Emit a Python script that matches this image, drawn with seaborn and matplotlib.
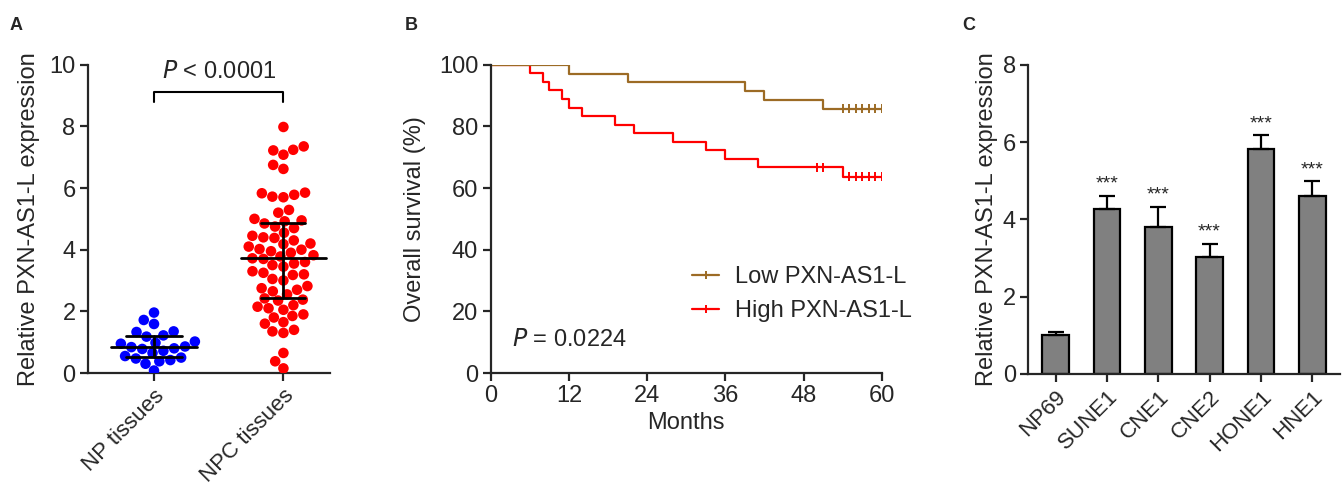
import numpy as np
import pandas as pd
import matplotlib
matplotlib.use("Agg")
import matplotlib.pyplot as plt
import seaborn as sns
from matplotlib.lines import Line2D

# -----------------------------------
# Data
# -----------------------------------

# panel A: expression per tissue sample
np_tissues = [1.96, 1.72, 1.59, 1.35, 1.33, 1.22, 1.18, 1.02, 0.98, 0.95,
              0.86, 0.84, 0.80, 0.78, 0.72, 0.65, 0.55, 0.50, 0.47, 0.42,
              0.38, 0.30, 0.08]
npc_tissues = [7.98, 7.35, 7.24, 7.22, 7.08, 6.75, 6.62,
               5.85, 5.83, 5.78, 5.72, 5.70, 5.29, 5.20,
               5.00, 4.95, 4.92, 4.85, 4.75, 4.70, 4.55, 4.45, 4.40, 4.38,
               4.30, 4.20, 4.18, 4.10, 4.02, 4.00, 3.95, 3.90, 3.82, 3.78,
               3.72, 3.70, 3.60, 3.55, 3.50, 3.45, 3.30, 3.25, 3.20, 3.18,
               3.05, 3.00, 2.82, 2.75, 2.70, 2.65, 2.55, 2.42, 2.38, 2.35,
               2.20, 2.15, 2.10, 2.05, 1.90, 1.85, 1.80, 1.65, 1.60, 1.40,
               1.35, 1.30, 0.65, 0.38, 0.15]
tissue_labels = ["NP tissues", "NPC tissues"]

# panel B: survival (months)
low_event_months = [12, 21, 39, 42, 51]
low_censor_months = [54, 55, 56, 57, 58, 59] + [60] * 24
high_event_months = [6, 8, 9, 11, 12, 14, 19, 22, 28, 33, 36, 41, 54]
high_censor_months = [50, 51, 55, 56, 57, 58, 59] + [60] * 16
group_labels = ["Low PXN-AS1-L", "High PXN-AS1-L"]

# panel C: cell lines
cell_lines = ["NP69", "SUNE1", "CNE1", "CNE2", "HONE1", "HNE1"]
cell_means = [1.00, 4.27, 3.79, 3.03, 5.81, 4.61]
cell_errs = [0.09, 0.34, 0.53, 0.34, 0.36, 0.38]
cell_stars = ["", "***", "***", "***", "***", "***"]

# -----------------------------------
# Style
# -----------------------------------

FS = 17

sns.set_style("ticks")
plt.rcParams["font.family"] = ["Liberation Sans", "DejaVu Sans"]
plt.rcParams["axes.linewidth"] = 1.6
plt.rcParams["xtick.major.width"] = 1.6
plt.rcParams["ytick.major.width"] = 1.6
plt.rcParams["xtick.major.size"] = 6
plt.rcParams["ytick.major.size"] = 6
plt.rcParams["xtick.major.pad"] = 3
plt.rcParams["ytick.major.pad"] = 3
plt.rcParams["xtick.labelsize"] = FS
plt.rcParams["ytick.labelsize"] = FS
plt.rcParams["axes.labelsize"] = FS

W, H = 1344, 487
fig = plt.figure(figsize=(W / 100, H / 100), dpi=100)


def px_axes(x0, y0, x1, y1):
    return fig.add_axes([x0 / W, 1 - y1 / H, (x1 - x0) / W, (y1 - y0) / H])


def tilt(ax, size=FS):
    for lab in ax.get_xticklabels():
        lab.set_rotation(45)
        lab.set_ha("right")
        lab.set_rotation_mode("anchor")
        lab.set_fontsize(size)


# -----------------------------------
# Panel A
# -----------------------------------

axA = px_axes(88, 64.7, 330, 373)
df_a = pd.DataFrame({
    "group": [tissue_labels[0]] * len(np_tissues) + [tissue_labels[1]] * len(npc_tissues),
    "value": np_tissues + npc_tissues,
})
sns.swarmplot(data=df_a, x="group", y="value", hue="group",
              palette=["#0000FF", "#FF0000"], size=7.6, legend=False, ax=axA)

for i, vals in enumerate([np_tissues, npc_tissues]):
    q1, med, q3 = np.percentile(vals, [25, 50, 75])
    hw = 0.33
    qw = [0.22, 0.17][i]
    axA.plot([i - hw, i + hw], [med, med], color="black", lw=2, zorder=5)
    axA.plot([i - qw, i + qw], [q1, q1], color="black", lw=2, zorder=5)
    axA.plot([i - qw, i + qw], [q3, q3], color="black", lw=2, zorder=5)
    axA.plot([i, i], [q1, q3], color="black", lw=2, zorder=5)

axA.plot([0, 0, 1, 1], [8.8, 9.1, 9.1, 8.8], color="black", lw=1.5)
axA.text(0.5, 9.4, r"$\it{P}$ < 0.0001", ha="center", va="bottom", fontsize=FS)
axA.set_xlim(-0.51, 1.36)
axA.set_ylim(0, 10)
axA.set_yticks([0, 2, 4, 6, 8, 10])
axA.set_xlabel("")
axA.set_ylabel("Relative PXN-AS1-L expression", labelpad=7)
tilt(axA, 16)
sns.despine(ax=axA)

# -----------------------------------
# Panel B
# -----------------------------------

axB = px_axes(490.7, 64.7, 881.7, 373)


def km_steps(events, censors, label):
    n = len(events) + len(censors)
    times = sorted(set(events) | set(censors))
    at_risk = n
    surv = 100.0
    xs, ys = [0], [100.0]
    cens_x, cens_y = [], []
    for t in times:
        d = events.count(t)
        c = censors.count(t)
        if d:
            surv = surv * (at_risk - d) / at_risk
            xs.append(t)
            ys.append(surv)
        if c:
            cens_x.append(t)
            cens_y.append(surv)
        at_risk -= d + c
    xs.append(60)
    ys.append(surv)
    steps = pd.DataFrame({"Months": xs, "surv": ys, "group": label})
    cens = pd.DataFrame({"Months": cens_x, "surv": cens_y, "group": label})
    return steps, cens


s_low, c_low = km_steps(low_event_months, low_censor_months, group_labels[0])
s_high, c_high = km_steps(high_event_months, high_censor_months, group_labels[1])
steps_df = pd.concat([s_low, s_high])
cens_df = pd.concat([c_low, c_high])
km_pal = {group_labels[0]: "#9C6B25", group_labels[1]: "#FF0000"}

sns.lineplot(data=steps_df, x="Months", y="surv", hue="group", palette=km_pal,
             drawstyle="steps-post", lw=1.6, legend=False, ax=axB,
             hue_order=group_labels[::-1], estimator=None, sort=False)
sns.scatterplot(data=cens_df, x="Months", y="surv", hue="group", palette=km_pal,
                marker="|", s=45, linewidth=1.4, legend=False, ax=axB)

handles = [Line2D([], [], color=km_pal[g], lw=1.6, marker="|", markersize=6,
                  markeredgewidth=1.4) for g in group_labels]
axB.legend(handles, group_labels, loc="center left", bbox_to_anchor=(0.515, 0.255),
           frameon=False, fontsize=FS, handlelength=1.15, labelspacing=0.5,
           handletextpad=0.65, borderpad=0, borderaxespad=0)
axB.text(3.3, 10.7, r"$\it{P}$ = 0.0224", fontsize=FS, va="center")
axB.set_xlim(0, 60)
axB.set_ylim(0, 100)
axB.set_xticks([0, 12, 24, 36, 48, 60])
axB.set_yticks([0, 20, 40, 60, 80, 100])
axB.set_xlabel("Months", labelpad=3)
axB.set_ylabel("Overall survival (%)", labelpad=9)
sns.despine(ax=axB)

# -----------------------------------
# Panel C
# -----------------------------------

axC = px_axes(1028.3, 64.7, 1340, 374)
df_c = pd.DataFrame({"line": cell_lines, "mean": cell_means, "err": cell_errs})
sns.barplot(data=df_c, x="line", y="mean", color="#808080", width=0.52,
            edgecolor="black", linewidth=1.6, saturation=1, ax=axC, errorbar=None)
axC.errorbar(range(len(cell_lines)), cell_means, yerr=[[0] * len(cell_errs), cell_errs],
             fmt="none", ecolor="black", elinewidth=1.6, capsize=6, capthick=1.6)
for i, (m, e, s) in enumerate(zip(cell_means, cell_errs, cell_stars)):
    if s:
        axC.text(i, m + e + 0.08, s, ha="center", va="bottom", fontsize=14)
axC.set_xlim(-0.53, 5.54)
axC.set_ylim(0, 8)
axC.set_yticks([0, 2, 4, 6, 8])
axC.set_xlabel("")
axC.set_ylabel("Relative PXN-AS1-L expression", labelpad=3)
tilt(axC, 16)
sns.despine(ax=axC)

# panel letters
for letter, x in [("A", 10), ("B", 405), ("C", 962)]:
    fig.text(x / W, 1 - 25 / H, letter, fontsize=13, fontweight="bold", va="center")

fig.savefig("out.png", dpi=100)
